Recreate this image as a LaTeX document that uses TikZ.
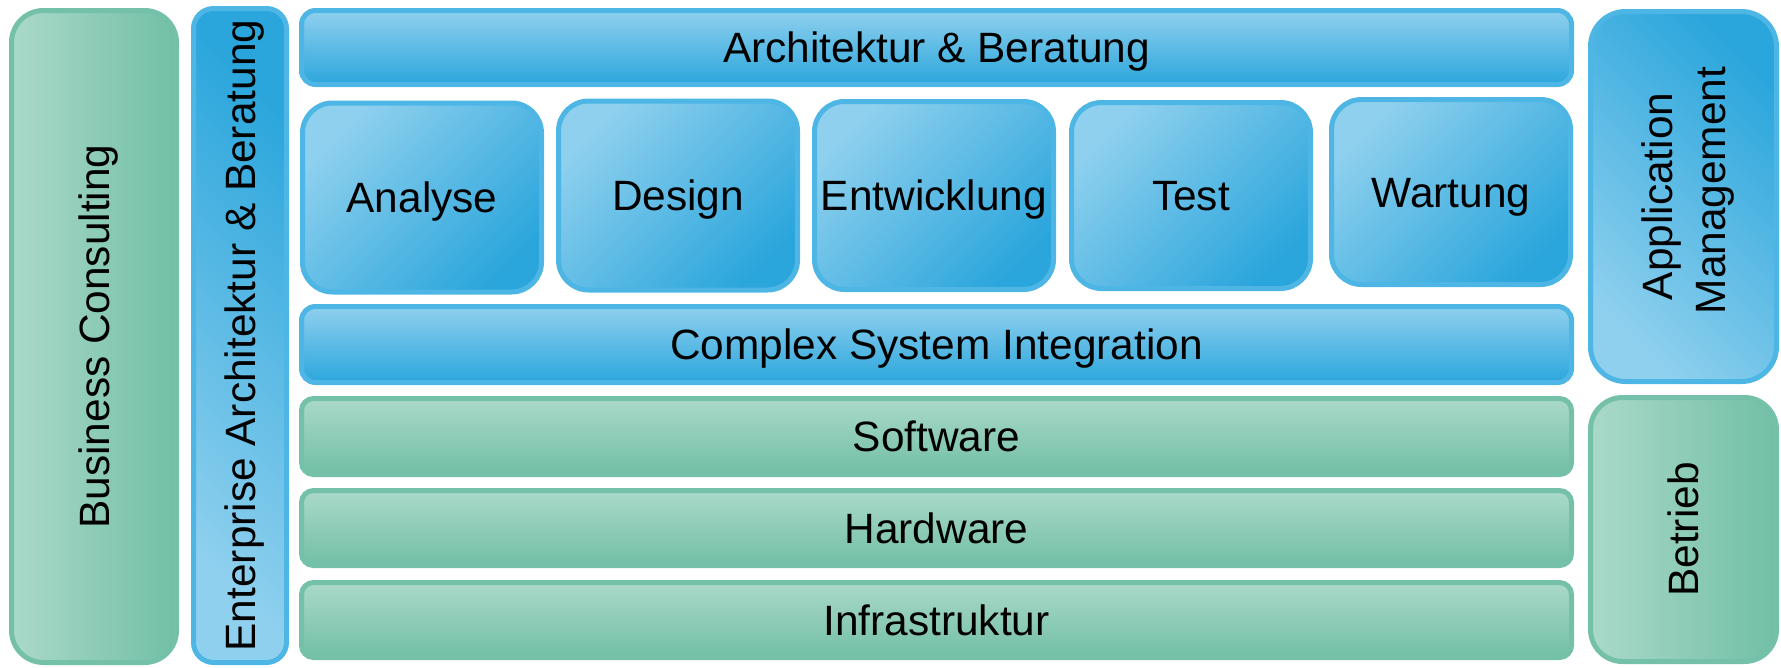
\documentclass[tikz,border=0pt]{standalone}
\usepackage{fontspec}
\setmainfont{Liberation Sans}
\definecolor{blueL}{HTML}{8FD0EE}
\definecolor{blueD}{HTML}{2BA6DC}
\definecolor{blueB}{HTML}{4DB6E4}
\definecolor{greenL}{HTML}{AAD9C9}
\definecolor{greenD}{HTML}{72BFA6}
\definecolor{greenB}{HTML}{74C0A8}
\begin{document}
\begin{tikzpicture}[x=1pt,y=-1pt,
  every node/.style={inner sep=0pt, outer sep=0pt, font=\fontsize{42.4}{52.5}\selectfont},
  base/.style={draw, line width=5pt, rectangle},
  bluebar/.style={base, draw=blueB, top color=blueL, bottom color=blueD, rounded corners=14pt},
  bluesq/.style={base, draw=blueB, top color=blueL, bottom color=blueD, shading angle=45, rounded corners=30pt},
  bluecol/.style={base, draw=blueB, top color=blueL, bottom color=blueD, shading angle=135, rounded corners=20pt},
  bluebig/.style={base, draw=blueB, top color=blueL, bottom color=blueD, shading angle=135, rounded corners=35pt},
  greenbar/.style={base, draw=greenB, top color=greenL, middle color=greenL!45!greenD, bottom color=greenD, rounded corners=12pt},
  greenbig/.style={base, draw=greenB, left color=greenL, right color=greenD, rounded corners=32pt},
  txt/.style={text=black, text height=30.4pt, text depth=0pt},
  vtxt/.style={txt, rotate=90}
]
\useasboundingbox (0,0) rectangle (1781,667);

% left columns
\node[greenbig, minimum width=165pt, minimum height=652pt] (bc) at (94,336.5) {};
\node[vtxt] (bct) at (bc.center) {Business Consulting};
\node[bluecol, minimum width=93pt, minimum height=654pt] (ent) at (240,335.5) {};
\node[vtxt] (entt) at (ent.center) {Enterprise Architektur \& Beratung};

% top bar
\node[bluebar, minimum width=1270pt, minimum height=74pt] (arch) at (936.5,47.5) {};
\node[txt] (archt) at (arch.center) {Architektur \& Beratung};

% phase boxes
\node[bluesq, minimum width=239pt, minimum height=189pt] (ana) at (422,197.5) {};
\node[txt] (anat) at (ana.center) {Analyse};
\node[bluesq, minimum width=239pt, minimum height=189pt] (des) at (678,195.5) {};
\node[txt] (dest) at (des.center) {Design};
\node[bluesq, minimum width=239pt, minimum height=188pt] (ent2) at (934,195.5) {};
\node[txt] (ent2t) at (ent2.center) {Entwicklung};
\node[bluesq, minimum width=239pt, minimum height=186pt] (tst) at (1191,195.5) {};
\node[txt] (tstt) at (tst.center) {Test};
\node[bluesq, minimum width=239pt, minimum height=185pt] (wart) at (1451,192) {};
\node[txt] (wartt) at (wart.center) {Wartung};

% integration bar
\node[bluebar, minimum width=1270pt, minimum height=76pt] (csi) at (936.5,344.5) {};
\node[txt] (csit) at (csi.center) {Complex System Integration};

% green bars
\node[greenbar, minimum width=1270pt, minimum height=76pt] (sw) at (936.5,436.5) {};
\node[txt] (swt) at (sw.center) {Software};
\node[greenbar, minimum width=1270pt, minimum height=75pt] (hw) at (936.5,528) {};
\node[txt] (hwt) at (hw.center) {Hardware};
\node[greenbar, minimum width=1270pt, minimum height=75pt] (inf) at (936.5,620) {};
\node[txt] (inft) at (inf.center) {Infrastruktur};

% right column
\node[bluebig, minimum width=186pt, minimum height=370pt] (am) at (1683.5,196.5) {};
\node[vtxt] (amt1) at ([xshift=-26pt]am.center) {Application};
\node[vtxt] (amt2) at ([xshift=26.5pt,yshift=6pt]am.center) {Management};
\node[greenbig, minimum width=186pt, minimum height=264pt] (bt) at (1683.5,529.5) {};
\node[vtxt] (btt) at (bt.center) {Betrieb};
\end{tikzpicture}
\end{document}
